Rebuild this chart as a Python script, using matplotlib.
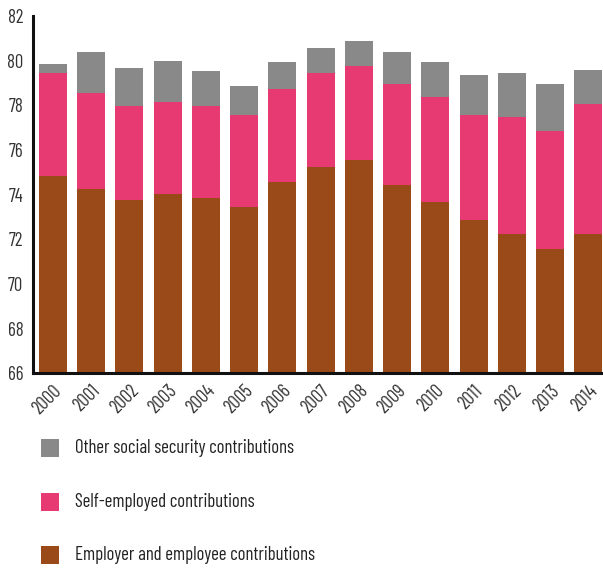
import matplotlib
matplotlib.use("Agg")
import matplotlib.pyplot as plt
from matplotlib.patches import Rectangle
import numpy as np

plt.rcParams['font.family'] = ['Barlow Condensed', 'DejaVu Sans']

years = ["2000", "2001", "2002", "2003", "2004", "2005", "2006", "2007",
         "2008", "2009", "2010", "2011", "2012", "2013", "2014"]
employer = [74.84, 74.26, 73.76, 74.03, 73.85, 73.45, 74.57, 75.24,
            75.55, 74.44, 73.67, 72.87, 72.24, 71.57, 72.24]
self_employed = [4.61, 4.29, 4.21, 4.12, 4.12, 4.12, 4.16, 4.21,
                 4.21, 4.52, 4.70, 4.70, 5.24, 5.28, 5.82]
other = [0.40, 1.84, 1.70, 1.84, 1.57, 1.30, 1.21, 1.12,
         1.12, 1.43, 1.57, 1.79, 1.97, 2.11, 1.52]
labels = ["Other social security contributions",
          "Self-employed contributions",
          "Employer and employee contributions"]
colors = ["#898989", "#E83A72", "#9A4A18"]

W, H = 603, 570
fig = plt.figure(figsize=(W / 100, H / 100), dpi=100)
ax = fig.add_axes([33 / W, 1 - 373.4 / H, 1 - 33 / W, (373.4 - 16) / H])

x = np.arange(len(years))
emp = np.array(employer)
se = np.array(self_employed)
ot = np.array(other)
bw = 0.73
ax.bar(x, emp, width=bw, color=colors[2], zorder=2)
ax.bar(x, se, width=bw, bottom=emp, color=colors[1], zorder=2)
ax.bar(x, ot, width=bw, bottom=emp + se, color=colors[0], zorder=2)

ax.set_ylim(66, 82)
ax.set_xlim(-0.52, 14.38)
ax.set_yticks(np.arange(66, 83, 2))
ax.set_xticks(x)
ax.set_xticklabels(years, rotation=45, ha='right', rotation_mode='anchor')
ax.tick_params(axis='both', length=0, labelsize=13.5, colors='#333333')
ax.tick_params(axis='x', pad=6)
ax.tick_params(axis='y', pad=7)
for s in ['top', 'right']:
    ax.spines[s].set_visible(False)
for s in ['left', 'bottom']:
    ax.spines[s].set_linewidth(2.2)
    ax.spines[s].set_color('#111111')
    ax.spines[s].set_zorder(3)

ys = [447.7, 501.7, 555]
for lab, col, yc in zip(labels, colors, ys):
    fig.add_artist(Rectangle((41 / W, 1 - (yc + 9) / H), 18 / W, 18 / H,
                             transform=fig.transFigure, facecolor=col, edgecolor='none'))
    fig.text(75 / W, 1 - yc / H, lab, va='center', ha='left', fontsize=13.5, color='#222222')

fig.savefig("out.png", dpi=100)
